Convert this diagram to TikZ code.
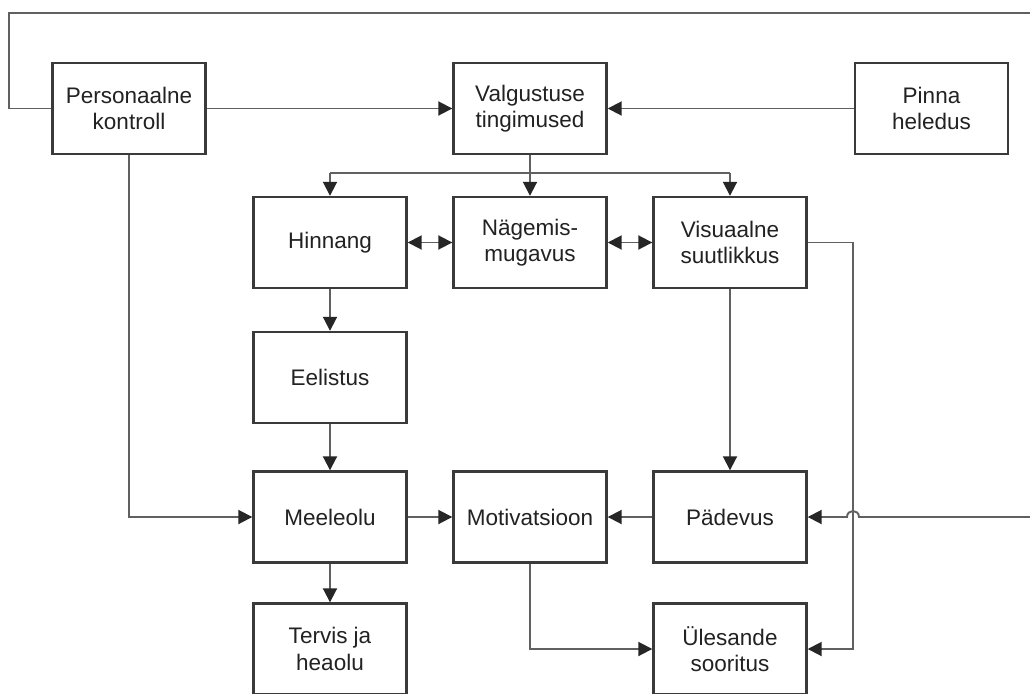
\documentclass[tikz,border=0pt]{standalone}
\usepackage{fontspec}
\setmainfont{Liberation Sans}
\usetikzlibrary{arrows.meta}
\definecolor{boxc}{HTML}{3A3A3A}
\definecolor{linec}{HTML}{606060}
\definecolor{tipc}{HTML}{262626}
\definecolor{txtc}{HTML}{222222}
\tikzset{
  tip/.tip={Triangle[length=14pt,width=14pt,color=tipc]},
  blk/.style={draw=boxc, line width=2.4pt, minimum width=153pt, minimum height=91pt,
    align=center, inner sep=0pt, text=txtc, font=\fontsize{22.5}{26.5}\selectfont},
  conn/.style={draw=linec, line width=1.9pt, -tip},
  conn2/.style={draw=linec, line width=1.9pt, tip-tip},
  plain/.style={draw=linec, line width=1.9pt}
}
\begin{document}
\begin{tikzpicture}[x=1pt,y=-1pt]
\useasboundingbox (0,0) rectangle (1030,693);
\clip (0,0) rectangle (1030,693);
\fill[white] (0,0) rectangle (1030,693);
% nodes
\node[blk] (pk) at (129,108.5) {Personaalne\\kontroll};
\node[blk] (vt) at (530,108.5) {Valgustuse\\tingimused};
\node[blk] (ph) at (931.5,108.5) {Pinna\\heledus};
\node[blk] (hi) at (330,242.5) {Hinnang};
\node[blk] (nm) at (530,242.5) {Nägemis-\\mugavus};
\node[blk] (vs) at (730,242.5) {Visuaalne\\suutlikkus};
\node[blk] (ee) at (330,377.5) {Eelistus};
\node[blk] (me) at (330,517) {Meeleolu};
\node[blk] (mo) at (530,517) {Motivatsioon};
\node[blk] (pa) at (730,517) {Pädevus};
\node[blk] (tv) at (330,649) {Tervis ja\\heaolu};
\node[blk] (us) at (730,649) {Ülesande\\sooritus};
% free coordinates
\coordinate (tl) at (9,13);
\coordinate (tr) at (1032,13);
\coordinate (rr) at (1032,517);
\coordinate (split) at (530,173);
\coordinate (vx) at (853,242.5);
% top loop from personal control
\draw[plain] (pk.west) -- (tl |- pk.west) -- (tl) -- (tr);
\draw[conn] (rr) -- (859,517) .. controls (859,509) and (847,509) .. (847,517) -- (pa.east);
% into lighting conditions
\draw[conn] (pk.east) -- (vt.west);
\draw[conn] (ph.west) -- (vt.east);
% distribution
\draw[plain] (vt.south) -- (split);
\draw[plain] (split -| hi.north) -- (split -| vs.north);
\draw[conn] (split) -- (nm.north);
\draw[conn] (split -| hi.north) -- (hi.north);
\draw[conn] (split -| vs.north) -- (vs.north);
% double arrows
\draw[conn2] (hi.east) -- (nm.west);
\draw[conn2] (nm.east) -- (vs.west);
% vertical chains
\draw[conn] (hi.south) -- (ee.north);
\draw[conn] (ee.south) -- (me.north);
\draw[conn] (vs.south) -- (pa.north);
\draw[conn] (me.south) -- (tv.north);
% personal control to mood
\draw[conn] (pk.south) -- (pk.south |- me.west) -- (me.west);
% middle row
\draw[conn] (me.east) -- (mo.west);
\draw[conn] (pa.west) -- (mo.east);
% motivation to task performance
\draw[conn] (mo.south) -- (mo.south |- us.west) -- (us.west);
% visual performance to task performance
\draw[conn] (vs.east) -- (vx) -- (vx |- us.east) -- (us.east);
\end{tikzpicture}
\end{document}
